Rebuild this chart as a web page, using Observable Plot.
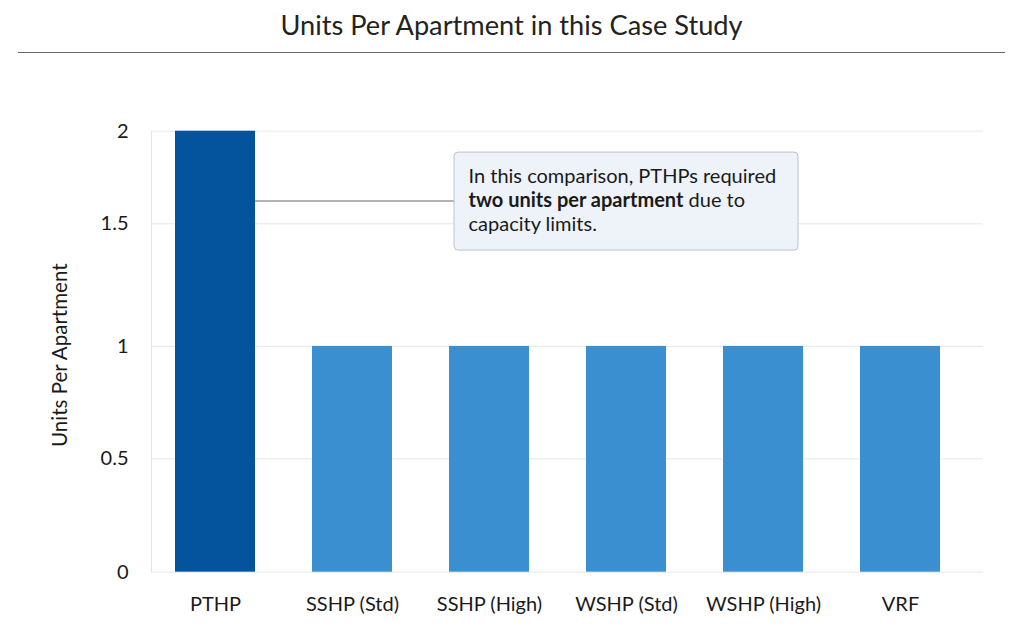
<!DOCTYPE html>
<html><head><meta charset="utf-8">
<script src="https://cdn.jsdelivr.net/npm/d3@7"></script>
<script src="https://cdn.jsdelivr.net/npm/@observablehq/plot@0.6"></script>
<style>
body{margin:0;background:#fff;font-family:Lato,sans-serif;width:1024px;height:631px;overflow:hidden}
#title{height:52px;line-height:49px;font-size:27.2px;color:#222;text-align:center;margin:0 19px 0 18px;border-bottom:1px solid #666}
#chart svg{display:block}
</style></head><body>
<div id="title">Units Per Apartment in this Case Study</div>
<div id="chart"></div>
<script>
// ---- data ----
const categories = ["PTHP", "SSHP (Std)", "SSHP (High)", "WSHP (Std)", "WSHP (High)", "VRF"];
const unitsPerApartment = [2, 1, 1, 1, 1, 1];
const highlighted = "PTHP";
const yTicks = [0, 0.5, 1, 1.5, 2];
// relative placement of each tick along the axis as drawn in the original (uneven spacing)
const yTickPlacement = [0, 0.257, 0.512, 0.790, 1];
const yLabel = "Units Per Apartment";
const annotationValue = 1.62;
const annotationColumn = "SSHP (High)";
const annotationLines = [
  [{t: "In this comparison, PTHPs required"}],
  [{t: "two units per apartment", b: true}, {t: " due to"}],
  [{t: "capacity limits."}]
];

const warp = d3.scaleLinear().domain(yTicks).range(yTickPlacement);
const rows = categories.map((c, i) => ({category: c, value: unitsPerApartment[i], group: c === highlighted ? "highlight" : "other"}));

// ---- layout ----
const W = 1024, H = 578, mL = 151, mR = 41, mT = 77.7, mB = 59.3;
const fw = W - mL - mR, fh = H - mT - mB;

const plot = Plot.plot({
  width: W, height: H,
  marginLeft: mL, marginRight: mR, marginTop: mT, marginBottom: mB,
  style: {fontFamily: "Lato, sans-serif", fontSize: "20px", color: "#222", background: "#fff"},
  x: {domain: categories, paddingInner: 0.414, paddingOuter: 0.2345, align: 0.357, label: null},
  y: {domain: [0, 1], label: null},
  color: {domain: ["highlight", "other"], range: ["#03549C", "#3A8FD0"]},
  marks: [
    Plot.gridY({ticks: yTicks.map(warp), stroke: "#e6e6e6", strokeOpacity: 1, strokeWidth: 1}),
    Plot.frame({stroke: "#e3e3e3", strokeDasharray: `0 ${2 * fw + fh} ${fh}`}),
    Plot.barY(rows, {x: "category", y: d => warp(d.value), fill: "group"}),
    Plot.axisY({ticks: yTicks.map(warp), tickSize: 0, tickPadding: 23, tickFormat: (d, i) => String(yTicks[i]), label: null, fill: "#1a1a1a"}),
    Plot.axisX({tickSize: 0, tickPadding: 25, label: null, fill: "#1a1a1a"})
  ]
});
document.getElementById("chart").appendChild(plot);

const svg = d3.select(plot);
// y axis title
svg.append("text")
  .attr("transform", `translate(${mL - 91},${(mT + H - mB) / 2 + 4}) rotate(-90)`)
  .attr("text-anchor", "middle").attr("dy", "0.35em")
  .attr("font-family", "Lato, sans-serif").attr("font-size", 20.5).attr("fill", "#1a1a1a")
  .text(yLabel);

// ---- annotation, positioned from the plot's scales ----
const xs = plot.scale("x"), ys = plot.scale("y");
const barRight = xs.apply(highlighted) + xs.bandwidth;
const cy = ys.apply(warp(annotationValue));
const bw = 344, bh = 98;
const bx = xs.apply(annotationColumn) + 5;
const by = cy - bh / 2;
const g = svg.append("g");
g.append("line").attr("x1", barRight).attr("x2", bx).attr("y1", cy).attr("y2", cy)
  .attr("stroke", "#9a9a9a").attr("stroke-width", 1.5);
g.append("rect").attr("x", bx).attr("y", by).attr("width", bw).attr("height", bh).attr("rx", 4)
  .attr("fill", "#EEF3F9").attr("stroke", "#B8C3CE").attr("stroke-width", 1);
const txt = g.append("text").attr("text-anchor", "start")
  .attr("font-family", "Lato, sans-serif").attr("font-size", 20).attr("fill", "#1a1a1a");
annotationLines.forEach((line, i) => {
  line.forEach((seg, j) => {
    const ts = txt.append("tspan").text(seg.t);
    if (j === 0) ts.attr("x", bx + 14.5).attr("y", by + 31 + i * 24);
    if (seg.b) ts.attr("font-weight", "bold");
  });
});
</script>
</body></html>
